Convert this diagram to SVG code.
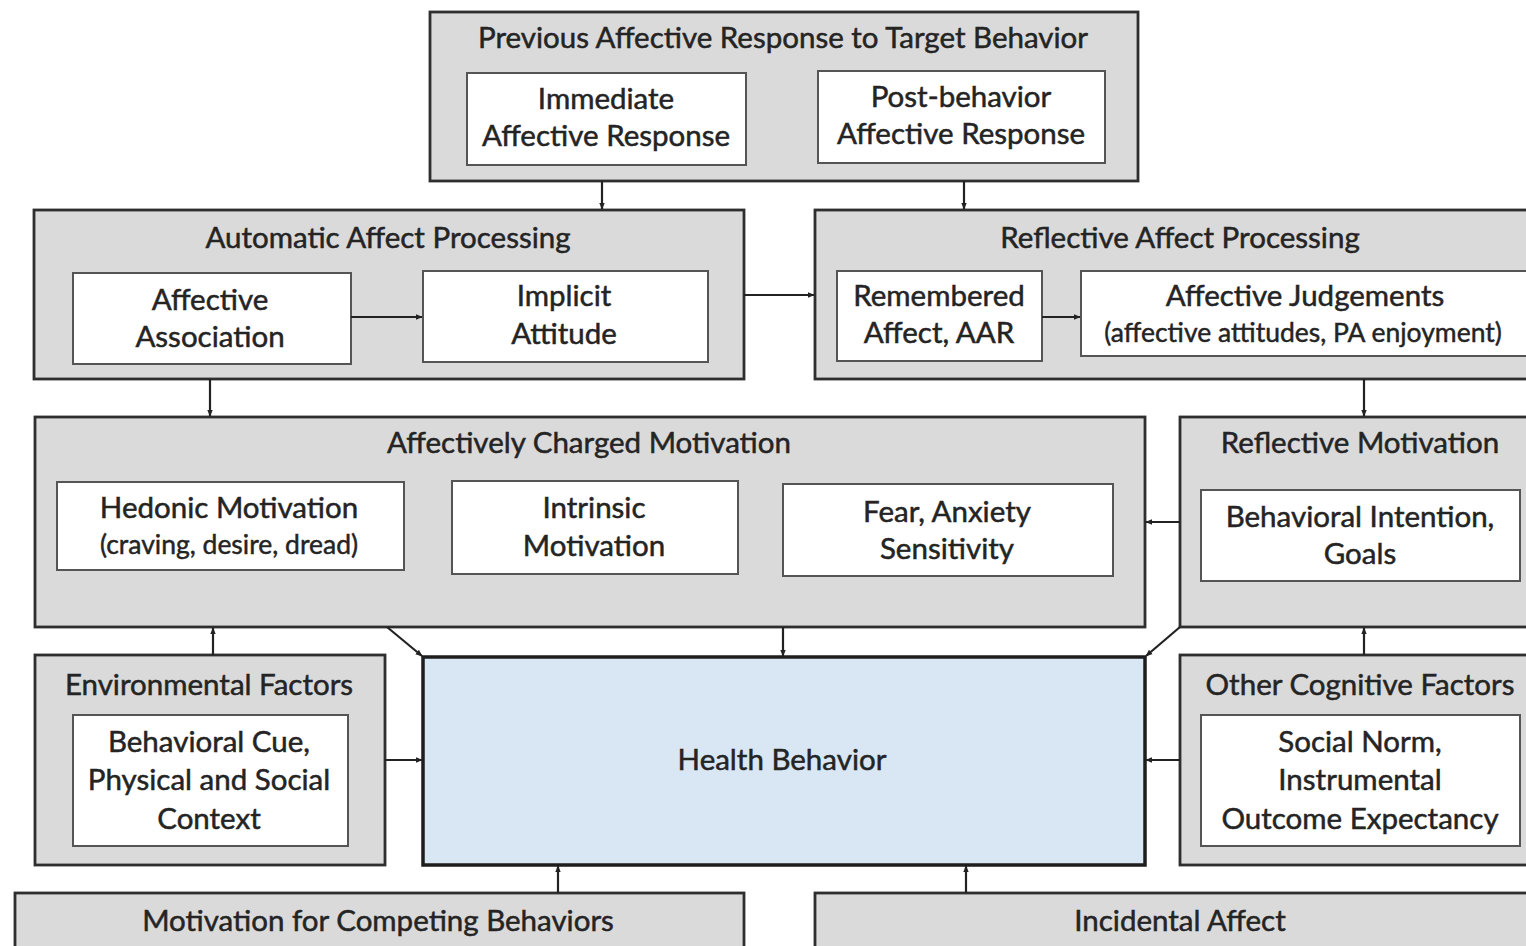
<svg xmlns="http://www.w3.org/2000/svg" width="1526" height="946" viewBox="0 0 1526 946">
<defs>
<marker id="ah" viewBox="0 0 10 10" refX="9" refY="5" markerWidth="7" markerHeight="7" markerUnits="userSpaceOnUse" orient="auto">
<path d="M0,1 L10,5 L0,9 z" fill="#222"/>
</marker>
<style>
.outer{fill:#dadada;stroke:#2e2e2e;stroke-width:2.8}
.inner{fill:#ffffff;stroke:#555;stroke-width:2}
.hb{fill:#d8e7f3;stroke:#1e1e1e;stroke-width:3.5}
.t{font-family:Lato,"Liberation Sans",sans-serif;font-size:29.5px;fill:#242424;stroke:#242424;stroke-width:0.5;text-anchor:middle}
.s{font-family:Lato,"Liberation Sans",sans-serif;font-size:26.5px;fill:#242424;stroke:#242424;stroke-width:0.45;text-anchor:middle}
.c{fill:none;stroke:#222;stroke-width:2.2;marker-end:url(#ah)}
</style>
</defs>
<rect width="1526" height="946" fill="#ffffff"/>

<g id="previous-affective-response">
<rect class="outer" x="430" y="12" width="708" height="169"/>
<text class="t" x="783" y="48">Previous Affective Response to Target Behavior</text>
</g>
<g id="immediate-affective-response">
<rect class="inner" x="467" y="73" width="279" height="92"/>
<text class="t" x="606" y="109">Immediate</text>
<text class="t" x="606" y="146">Affective Response</text>
</g>
<g id="post-behavior-affective-response">
<rect class="inner" x="818" y="71" width="287" height="92"/>
<text class="t" x="961" y="107">Post-behavior</text>
<text class="t" x="961" y="144">Affective Response</text>
</g>

<g id="automatic-affect-processing">
<rect class="outer" x="34" y="210" width="710" height="169"/>
<text class="t" x="388" y="248">Automatic Affect Processing</text>
</g>
<g id="affective-association">
<rect class="inner" x="73" y="273" width="278" height="91"/>
<text class="t" x="210" y="310">Affective</text>
<text class="t" x="210" y="347">Association</text>
</g>
<g id="implicit-attitude">
<rect class="inner" x="423" y="271" width="285" height="91"/>
<text class="t" x="564" y="306">Implicit</text>
<text class="t" x="564" y="344">Attitude</text>
</g>

<g id="reflective-affect-processing">
<rect class="outer" x="815" y="210" width="725" height="169"/>
<text class="t" x="1180" y="248">Reflective Affect Processing</text>
</g>
<g id="remembered-affect">
<rect class="inner" x="837" y="271" width="205" height="90"/>
<text class="t" x="939" y="306">Remembered</text>
<text class="t" x="939" y="343">Affect, AAR</text>
</g>
<g id="affective-judgements">
<rect class="inner" x="1081" y="271" width="455" height="85"/>
<text class="t" x="1305" y="306">Affective Judgements</text>
<text class="s" x="1303" y="342">(affective attitudes, PA enjoyment)</text>
</g>

<g id="affectively-charged-motivation">
<rect class="outer" x="35" y="417" width="1110" height="210"/>
<text class="t" x="589" y="453">Affectively Charged Motivation</text>
</g>
<g id="hedonic-motivation">
<rect class="inner" x="57" y="482" width="347" height="88"/>
<text class="t" x="229" y="518">Hedonic Motivation</text>
<text class="s" x="229" y="554">(craving, desire, dread)</text>
</g>
<g id="intrinsic-motivation">
<rect class="inner" x="452" y="481" width="286" height="93"/>
<text class="t" x="594" y="518">Intrinsic</text>
<text class="t" x="594" y="556">Motivation</text>
</g>
<g id="fear-anxiety-sensitivity">
<rect class="inner" x="783" y="484" width="330" height="92"/>
<text class="t" x="947" y="522">Fear, Anxiety</text>
<text class="t" x="947" y="559">Sensitivity</text>
</g>

<g id="reflective-motivation">
<rect class="outer" x="1180" y="417" width="360" height="210"/>
<text class="t" x="1360" y="453">Reflective Motivation</text>
</g>
<g id="behavioral-intention">
<rect class="inner" x="1201" y="490" width="319" height="91"/>
<text class="t" x="1360" y="527">Behavioral Intention,</text>
<text class="t" x="1360" y="564">Goals</text>
</g>

<g id="environmental-factors">
<rect class="outer" x="35" y="655" width="350" height="210"/>
<text class="t" x="209" y="695">Environmental Factors</text>
</g>
<g id="behavioral-cue">
<rect class="inner" x="73" y="715" width="275" height="131"/>
<text class="t" x="209" y="752">Behavioral Cue,</text>
<text class="t" x="209" y="790">Physical and Social</text>
<text class="t" x="209" y="829">Context</text>
</g>

<g id="health-behavior">
<rect class="hb" x="423" y="657" width="722" height="208"/>
<text class="t" x="782" y="770">Health Behavior</text>
</g>

<g id="other-cognitive-factors">
<rect class="outer" x="1180" y="655" width="360" height="210"/>
<text class="t" x="1360" y="695">Other Cognitive Factors</text>
</g>
<g id="social-norm">
<rect class="inner" x="1201" y="715" width="319" height="131"/>
<text class="t" x="1360" y="752">Social Norm,</text>
<text class="t" x="1360" y="790">Instrumental</text>
<text class="t" x="1360" y="829">Outcome Expectancy</text>
</g>

<g id="motivation-competing-behaviors">
<rect class="outer" x="15" y="893" width="729" height="70"/>
<text class="t" x="378" y="931">Motivation for Competing Behaviors</text>
</g>
<g id="incidental-affect">
<rect class="outer" x="815" y="893" width="725" height="70"/>
<text class="t" x="1180" y="931">Incidental Affect</text>
</g>

<g id="connectors">
<line class="c" x1="602" y1="181" x2="602" y2="209"/>
<line class="c" x1="964" y1="181" x2="964" y2="209"/>
<line class="c" x1="351" y1="317" x2="422" y2="317"/>
<line class="c" x1="744" y1="295" x2="814" y2="295"/>
<line class="c" x1="1042" y1="317" x2="1080" y2="317"/>
<line class="c" x1="210" y1="379" x2="210" y2="416"/>
<line class="c" x1="1364" y1="379" x2="1364" y2="416"/>
<line class="c" x1="1180" y1="522" x2="1146" y2="522"/>
<line class="c" x1="387" y1="627" x2="422" y2="656"/>
<line class="c" x1="783" y1="627" x2="783" y2="656"/>
<line class="c" x1="1180" y1="627" x2="1146" y2="656"/>
<line class="c" x1="213" y1="655" x2="213" y2="628"/>
<line class="c" x1="1364" y1="655" x2="1364" y2="628"/>
<line class="c" x1="385" y1="760" x2="422" y2="760"/>
<line class="c" x1="1180" y1="760" x2="1146" y2="760"/>
<line class="c" x1="558" y1="893" x2="558" y2="866"/>
<line class="c" x1="966" y1="893" x2="966" y2="866"/>
</g>
</svg>
